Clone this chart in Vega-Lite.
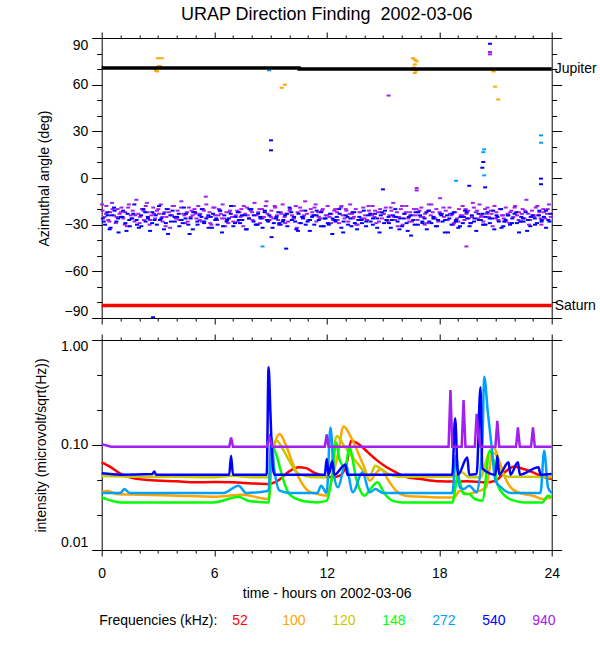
{
  "$schema": "https://vega.github.io/schema/vega-lite/v6.json",
  "padding": {"left": 33.7, "top": 5, "right": 2, "bottom": 2},
  "background": "white",
  "config": {
    "font": "Liberation Sans",
    "view": {"stroke": null},
    "axis": {
      "grid": false, "domainColor": "black", "tickColor": "black", "labelColor": "black", "titleColor": "black",
      "labelFont": "Liberation Sans", "titleFont": "Liberation Sans", "labelFontSize": 14, "titleFontSize": 14,
      "titleFontWeight": "normal", "domainWidth": 1, "tickWidth": 1, "labelPadding": 4, "titlePadding": 12
    },
    "concat": {"spacing": 8}
  },
  "datasets": {
    "df": [
      {"t":0.05,"a":-21,"f":"940"},{"t":0.15,"a":-25,"f":"940"},{"t":0.25,"a":-18,"f":"940"},{"t":0.35,"a":-27,"f":"940"},{"t":0.45,"a":-22,"f":"940"},{"t":0.55,"a":-16,"f":"940"},{"t":0.65,"a":-24,"f":"940"},{"t":0.75,"a":-29,"f":"940"},{"t":0.85,"a":-20,"f":"940"},{"t":0.95,"a":-23,"f":"940"},
      {"t":1.05,"a":-19,"f":"940"},{"t":1.15,"a":-26,"f":"940"},{"t":1.25,"a":-22,"f":"940"},{"t":1.35,"a":-31,"f":"940"},{"t":1.45,"a":-17,"f":"940"},{"t":1.55,"a":-24,"f":"940"},{"t":1.65,"a":-21,"f":"940"},{"t":1.75,"a":-28,"f":"940"},{"t":1.85,"a":-14,"f":"940"},{"t":1.95,"a":-23,"f":"940"},
      {"t":2.05,"a":-25,"f":"940"},{"t":2.15,"a":-20,"f":"940"},{"t":2.25,"a":-27,"f":"940"},{"t":2.35,"a":-18,"f":"940"},{"t":2.45,"a":-22,"f":"940"},{"t":2.55,"a":-30,"f":"940"},{"t":2.65,"a":-24,"f":"940"},{"t":2.75,"a":-19,"f":"940"},{"t":2.85,"a":-26,"f":"940"},{"t":2.95,"a":-21,"f":"940"},
      {"t":3.05,"a":-23,"f":"940"},{"t":3.15,"a":-17,"f":"940"},{"t":3.25,"a":-28,"f":"940"},{"t":3.35,"a":-22,"f":"940"},{"t":3.45,"a":-25,"f":"940"},{"t":3.55,"a":-20,"f":"940"},{"t":3.65,"a":-32,"f":"940"},{"t":3.75,"a":-24,"f":"940"},{"t":3.85,"a":-18,"f":"940"},{"t":3.95,"a":-26,"f":"940"},
      {"t":4.05,"a":-21,"f":"940"},{"t":4.15,"a":-27,"f":"940"},{"t":4.25,"a":-15,"f":"940"},{"t":4.35,"a":-23,"f":"940"},{"t":4.45,"a":-29,"f":"940"},{"t":4.55,"a":-22,"f":"940"},{"t":4.65,"a":-19,"f":"940"},{"t":4.75,"a":-25,"f":"940"},{"t":4.85,"a":-24,"f":"940"},{"t":4.95,"a":-20,"f":"940"},
      {"t":5.05,"a":-26,"f":"940"},{"t":5.15,"a":-18,"f":"940"},{"t":5.25,"a":-23,"f":"940"},{"t":5.35,"a":-28,"f":"940"},{"t":5.45,"a":-21,"f":"940"},{"t":5.55,"a":-12,"f":"940"},{"t":5.65,"a":-25,"f":"940"},{"t":5.75,"a":-22,"f":"940"},{"t":5.85,"a":-30,"f":"940"},{"t":5.95,"a":-19,"f":"940"},
      {"t":6.05,"a":-24,"f":"940"},{"t":6.15,"a":-27,"f":"940"},{"t":6.25,"a":-20,"f":"940"},{"t":6.35,"a":-23,"f":"940"},{"t":6.45,"a":-17,"f":"940"},{"t":6.55,"a":-26,"f":"940"},{"t":6.65,"a":-22,"f":"940"},{"t":6.75,"a":-29,"f":"940"},{"t":6.85,"a":-21,"f":"940"},{"t":6.95,"a":-25,"f":"940"},
      {"t":7.05,"a":-18,"f":"940"},{"t":7.15,"a":-24,"f":"940"},{"t":7.25,"a":-28,"f":"940"},{"t":7.35,"a":-22,"f":"940"},{"t":7.45,"a":-20,"f":"940"},{"t":7.55,"a":-31,"f":"940"},{"t":7.65,"a":-23,"f":"940"},{"t":7.75,"a":-19,"f":"940"},{"t":7.85,"a":-26,"f":"940"},{"t":7.95,"a":-21,"f":"940"},
      {"t":8.05,"a":-27,"f":"940"},{"t":8.15,"a":-16,"f":"940"},{"t":8.25,"a":-24,"f":"940"},{"t":8.35,"a":-22,"f":"940"},{"t":8.45,"a":-29,"f":"940"},{"t":8.55,"a":-20,"f":"940"},{"t":8.65,"a":-25,"f":"940"},{"t":8.75,"a":-18,"f":"940"},{"t":8.85,"a":-23,"f":"940"},{"t":8.95,"a":-27,"f":"940"},
      {"t":9.05,"a":-21,"f":"940"},{"t":9.15,"a":-26,"f":"940"},{"t":9.25,"a":-19,"f":"940"},{"t":9.35,"a":-24,"f":"940"},{"t":9.45,"a":-30,"f":"940"},{"t":9.55,"a":-22,"f":"940"},{"t":9.65,"a":-17,"f":"940"},{"t":9.75,"a":-25,"f":"940"},{"t":9.85,"a":-23,"f":"940"},{"t":9.95,"a":-28,"f":"940"},
      {"t":10.05,"a":-20,"f":"940"},{"t":10.15,"a":-24,"f":"940"},{"t":10.25,"a":-26,"f":"940"},{"t":10.35,"a":-18,"f":"940"},{"t":10.45,"a":-22,"f":"940"},{"t":10.55,"a":-29,"f":"940"},{"t":10.65,"a":-21,"f":"940"},{"t":10.75,"a":-25,"f":"940"},{"t":10.85,"a":-15,"f":"940"},{"t":10.95,"a":-23,"f":"940"},
      {"t":11.05,"a":-27,"f":"940"},{"t":11.15,"a":-20,"f":"940"},{"t":11.25,"a":-24,"f":"940"},{"t":11.35,"a":-19,"f":"940"},{"t":11.45,"a":-28,"f":"940"},{"t":11.55,"a":-22,"f":"940"},{"t":11.65,"a":-26,"f":"940"},{"t":11.75,"a":-21,"f":"940"},{"t":11.85,"a":-31,"f":"940"},{"t":11.95,"a":-24,"f":"940"},
      {"t":12.05,"a":-18,"f":"940"},{"t":12.15,"a":-25,"f":"940"},{"t":12.25,"a":-23,"f":"940"},{"t":12.35,"a":-27,"f":"940"},{"t":12.45,"a":-20,"f":"940"},{"t":12.55,"a":-22,"f":"940"},{"t":12.65,"a":-29,"f":"940"},{"t":12.75,"a":-19,"f":"940"},{"t":12.85,"a":-24,"f":"940"},{"t":12.95,"a":-26,"f":"940"},
      {"t":13.05,"a":-21,"f":"940"},{"t":13.15,"a":-28,"f":"940"},{"t":13.25,"a":-17,"f":"940"},{"t":13.35,"a":-23,"f":"940"},{"t":13.45,"a":-25,"f":"940"},{"t":13.55,"a":-20,"f":"940"},{"t":13.65,"a":-30,"f":"940"},{"t":13.75,"a":-22,"f":"940"},{"t":13.85,"a":-26,"f":"940"},{"t":13.95,"a":-19,"f":"940"},
      {"t":14.05,"a":-24,"f":"940"},{"t":14.15,"a":-27,"f":"940"},{"t":14.25,"a":-21,"f":"940"},{"t":14.35,"a":-23,"f":"940"},{"t":14.45,"a":-18,"f":"940"},{"t":14.55,"a":-25,"f":"940"},{"t":14.65,"a":-29,"f":"940"},{"t":14.75,"a":-22,"f":"940"},{"t":14.85,"a":-20,"f":"940"},{"t":14.95,"a":-26,"f":"940"},
      {"t":15.05,"a":-23,"f":"940"},{"t":15.15,"a":-19,"f":"940"},{"t":15.25,"a":-28,"f":"940"},{"t":15.35,"a":-24,"f":"940"},{"t":15.45,"a":-21,"f":"940"},{"t":15.55,"a":-16,"f":"940"},{"t":15.65,"a":-27,"f":"940"},{"t":15.75,"a":-22,"f":"940"},{"t":15.85,"a":-25,"f":"940"},{"t":15.95,"a":-20,"f":"940"},
      {"t":16.05,"a":-30,"f":"940"},{"t":16.15,"a":-23,"f":"940"},{"t":16.25,"a":-18,"f":"940"},{"t":16.35,"a":-26,"f":"940"},{"t":16.45,"a":-22,"f":"940"},{"t":16.55,"a":-28,"f":"940"},{"t":16.65,"a":-20,"f":"940"},{"t":16.75,"a":-24,"f":"940"},{"t":16.85,"a":-27,"f":"940"},{"t":16.95,"a":-21,"f":"940"},
      {"t":17.05,"a":-19,"f":"940"},{"t":17.15,"a":-25,"f":"940"},{"t":17.25,"a":-23,"f":"940"},{"t":17.35,"a":-29,"f":"940"},{"t":17.45,"a":-17,"f":"940"},{"t":17.55,"a":-24,"f":"940"},{"t":17.65,"a":-22,"f":"940"},{"t":17.75,"a":-26,"f":"940"},{"t":17.85,"a":-20,"f":"940"},{"t":17.95,"a":-28,"f":"940"},
      {"t":18.05,"a":-13,"f":"940"},{"t":18.15,"a":-23,"f":"940"},{"t":18.25,"a":-25,"f":"940"},{"t":18.35,"a":-21,"f":"940"},{"t":18.45,"a":-27,"f":"940"},{"t":18.55,"a":-19,"f":"940"},{"t":18.65,"a":-24,"f":"940"},{"t":18.75,"a":-30,"f":"940"},{"t":18.85,"a":-22,"f":"940"},{"t":18.95,"a":-26,"f":"940"},
      {"t":19.05,"a":-20,"f":"940"},{"t":19.15,"a":-24,"f":"940"},{"t":19.25,"a":-18,"f":"940"},{"t":19.35,"a":-27,"f":"940"},{"t":19.45,"a":-23,"f":"940"},{"t":19.55,"a":-21,"f":"940"},{"t":19.65,"a":-29,"f":"940"},{"t":19.75,"a":-25,"f":"940"},{"t":19.85,"a":-19,"f":"940"},{"t":19.95,"a":-22,"f":"940"},
      {"t":20.05,"a":-26,"f":"940"},{"t":20.15,"a":-17,"f":"940"},{"t":20.25,"a":-24,"f":"940"},{"t":20.35,"a":-28,"f":"940"},{"t":20.45,"a":-20,"f":"940"},{"t":20.55,"a":-23,"f":"940"},{"t":20.65,"a":-25,"f":"940"},{"t":20.75,"a":-21,"f":"940"},{"t":20.85,"a":-31,"f":"940"},{"t":20.95,"a":-18,"f":"940"},
      {"t":21.05,"a":-22,"f":"940"},{"t":21.15,"a":-27,"f":"940"},{"t":21.25,"a":-20,"f":"940"},{"t":21.35,"a":-24,"f":"940"},{"t":21.45,"a":-26,"f":"940"},{"t":21.55,"a":-19,"f":"940"},{"t":21.65,"a":-23,"f":"940"},{"t":21.75,"a":-29,"f":"940"},{"t":21.85,"a":-21,"f":"940"},{"t":21.95,"a":-25,"f":"940"},
      {"t":22.05,"a":-18,"f":"940"},{"t":22.15,"a":-24,"f":"940"},{"t":22.25,"a":-22,"f":"940"},{"t":22.35,"a":-28,"f":"940"},{"t":22.45,"a":-20,"f":"940"},{"t":22.55,"a":-26,"f":"940"},{"t":22.65,"a":-14,"f":"940"},{"t":22.75,"a":-23,"f":"940"},{"t":22.85,"a":-27,"f":"940"},{"t":22.95,"a":-21,"f":"940"},
      {"t":23.05,"a":-25,"f":"940"},{"t":23.15,"a":-19,"f":"940"},{"t":23.25,"a":-24,"f":"940"},{"t":23.35,"a":-22,"f":"940"},{"t":23.45,"a":-30,"f":"940"},{"t":23.55,"a":-20,"f":"940"},{"t":23.65,"a":-26,"f":"940"},{"t":23.75,"a":-23,"f":"940"},{"t":23.85,"a":-17,"f":"940"},{"t":23.95,"a":-25,"f":"940"},
      {"t":0.02,"a":-17,"f":"940"},{"t":0.23,"a":-23,"f":"940"},{"t":0.41,"a":-28,"f":"940"},{"t":0.58,"a":-20,"f":"940"},{"t":0.79,"a":-25,"f":"940"},
      {"t":1.02,"a":-22,"f":"940"},{"t":1.23,"a":-30,"f":"940"},{"t":1.41,"a":-19,"f":"940"},{"t":1.58,"a":-26,"f":"940"},{"t":1.79,"a":-24,"f":"940"},
      {"t":2.02,"a":-29,"f":"940"},{"t":2.23,"a":-21,"f":"940"},{"t":2.41,"a":-16,"f":"940"},{"t":2.58,"a":-27,"f":"940"},{"t":2.79,"a":-23,"f":"940"},
      {"t":3.02,"a":-20,"f":"940"},{"t":3.23,"a":-25,"f":"940"},{"t":3.41,"a":-31,"f":"940"},{"t":3.58,"a":-22,"f":"940"},{"t":3.79,"a":-18,"f":"940"},
      {"t":4.02,"a":-26,"f":"940"},{"t":4.23,"a":-19,"f":"940"},{"t":4.41,"a":-24,"f":"940"},{"t":4.58,"a":-28,"f":"940"},{"t":4.79,"a":-21,"f":"940"},
      {"t":5.02,"a":-23,"f":"940"},{"t":5.23,"a":-27,"f":"940"},{"t":5.41,"a":-20,"f":"940"},{"t":5.58,"a":-17,"f":"940"},{"t":5.79,"a":-29,"f":"940"},
      {"t":6.02,"a":-19,"f":"940"},{"t":6.23,"a":-24,"f":"940"},{"t":6.41,"a":-26,"f":"940"},{"t":6.58,"a":-31,"f":"940"},{"t":6.79,"a":-22,"f":"940"},
      {"t":7.02,"a":-28,"f":"940"},{"t":7.23,"a":-21,"f":"940"},{"t":7.41,"a":-25,"f":"940"},{"t":7.58,"a":-18,"f":"940"},{"t":7.79,"a":-24,"f":"940"},
      {"t":8.02,"a":-22,"f":"940"},{"t":8.23,"a":-30,"f":"940"},{"t":8.41,"a":-20,"f":"940"},{"t":8.58,"a":-26,"f":"940"},{"t":8.79,"a":-15,"f":"940"},
      {"t":9.02,"a":-25,"f":"940"},{"t":9.23,"a":-18,"f":"940"},{"t":9.41,"a":-27,"f":"940"},{"t":9.58,"a":-23,"f":"940"},{"t":9.79,"a":-29,"f":"940"},
      {"t":10.02,"a":-21,"f":"940"},{"t":10.23,"a":-26,"f":"940"},{"t":10.41,"a":-32,"f":"940"},{"t":10.58,"a":-19,"f":"940"},{"t":10.79,"a":-24,"f":"940"},
      {"t":11.02,"a":-27,"f":"940"},{"t":11.23,"a":-22,"f":"940"},{"t":11.41,"a":-17,"f":"940"},{"t":11.58,"a":-25,"f":"940"},{"t":11.79,"a":-20,"f":"940"},
      {"t":12.02,"a":-24,"f":"940"},{"t":12.23,"a":-29,"f":"940"},{"t":12.41,"a":-21,"f":"940"},{"t":12.58,"a":-27,"f":"940"},{"t":12.79,"a":-18,"f":"940"},
      {"t":13.02,"a":-20,"f":"940"},{"t":13.23,"a":-23,"f":"940"},{"t":13.41,"a":-26,"f":"940"},{"t":13.58,"a":-30,"f":"940"},{"t":13.79,"a":-22,"f":"940"},
      {"t":14.02,"a":-26,"f":"940"},{"t":14.23,"a":-18,"f":"940"},{"t":14.41,"a":-24,"f":"940"},{"t":14.58,"a":-21,"f":"940"},{"t":14.79,"a":-28,"f":"940"},
      {"t":15.02,"a":-23,"f":"940"},{"t":15.23,"a":-27,"f":"940"},{"t":15.41,"a":-19,"f":"940"},{"t":15.58,"a":-25,"f":"940"},{"t":15.79,"a":-31,"f":"940"},
      {"t":16.02,"a":-18,"f":"940"},{"t":16.23,"a":-22,"f":"940"},{"t":16.41,"a":-28,"f":"940"},{"t":16.58,"a":-24,"f":"940"},{"t":16.79,"a":-20,"f":"940"},
      {"t":17.02,"a":-25,"f":"940"},{"t":17.23,"a":-30,"f":"940"},{"t":17.41,"a":-21,"f":"940"},{"t":17.58,"a":-17,"f":"940"},{"t":17.79,"a":-26,"f":"940"},
      {"t":18.02,"a":-22,"f":"940"},{"t":18.23,"a":-19,"f":"940"},{"t":18.41,"a":-27,"f":"940"},{"t":18.58,"a":-23,"f":"940"},{"t":18.79,"a":-29,"f":"940"},
      {"t":19.02,"a":-28,"f":"940"},{"t":19.23,"a":-24,"f":"940"},{"t":19.41,"a":-20,"f":"940"},{"t":19.58,"a":-26,"f":"940"},{"t":19.79,"a":-16,"f":"940"},
      {"t":20.02,"a":-21,"f":"940"},{"t":20.23,"a":-25,"f":"940"},{"t":20.41,"a":-30,"f":"940"},{"t":20.58,"a":-19,"f":"940"},{"t":20.79,"a":-23,"f":"940"},
      {"t":21.02,"a":-26,"f":"940"},{"t":21.23,"a":-20,"f":"940"},{"t":21.41,"a":-24,"f":"940"},{"t":21.58,"a":-28,"f":"940"},{"t":21.79,"a":-22,"f":"940"},
      {"t":22.02,"a":-19,"f":"940"},{"t":22.23,"a":-27,"f":"940"},{"t":22.41,"a":-23,"f":"940"},{"t":22.58,"a":-21,"f":"940"},{"t":22.79,"a":-30,"f":"940"},
      {"t":23.02,"a":-24,"f":"940"},{"t":23.23,"a":-18,"f":"940"},{"t":23.41,"a":-26,"f":"940"},{"t":23.58,"a":-22,"f":"940"},{"t":23.79,"a":-20,"f":"940"},
      {"t":15.3,"a":53,"f":"940"},{"t":20.71,"a":81,"f":"940"},{"t":20.71,"a":79.5,"f":"940"},{"t":19.45,"a":-44,"f":"940"},{"t":16.8,"a":-6.5,"f":"940"},{"t":16.8,"a":-8,"f":"940"},
      {"t":0.06,"a":-26,"f":"540"},{"t":0.18,"a":-30,"f":"540"},{"t":0.30,"a":-22,"f":"540"},{"t":0.42,"a":-33,"f":"540"},{"t":0.54,"a":-24,"f":"540"},{"t":0.66,"a":-19,"f":"540"},{"t":0.78,"a":-28,"f":"540"},{"t":0.90,"a":-35,"f":"540"},{"t":1.02,"a":-25,"f":"540"},{"t":1.14,"a":-21,"f":"540"},
      {"t":1.26,"a":-29,"f":"540"},{"t":1.38,"a":-23,"f":"540"},{"t":1.50,"a":-31,"f":"540"},{"t":1.62,"a":-26,"f":"540"},{"t":1.74,"a":-17,"f":"540"},{"t":1.86,"a":-27,"f":"540"},{"t":1.98,"a":-32,"f":"540"},{"t":2.10,"a":-24,"f":"540"},{"t":2.22,"a":-20,"f":"540"},{"t":2.34,"a":-28,"f":"540"},
      {"t":2.46,"a":-25,"f":"540"},{"t":2.58,"a":-34,"f":"540"},{"t":2.70,"a":-22,"f":"540"},{"t":2.82,"a":-27,"f":"540"},{"t":2.94,"a":-30,"f":"540"},{"t":3.06,"a":-18,"f":"540"},{"t":3.18,"a":-26,"f":"540"},{"t":3.30,"a":-23,"f":"540"},{"t":3.42,"a":-29,"f":"540"},{"t":3.54,"a":-36,"f":"540"},
      {"t":3.66,"a":-24,"f":"540"},{"t":3.78,"a":-21,"f":"540"},{"t":3.90,"a":-28,"f":"540"},{"t":4.02,"a":-25,"f":"540"},{"t":4.14,"a":-31,"f":"540"},{"t":4.26,"a":-27,"f":"540"},{"t":4.38,"a":-19,"f":"540"},{"t":4.50,"a":-23,"f":"540"},{"t":4.62,"a":-30,"f":"540"},{"t":4.74,"a":-26,"f":"540"},
      {"t":4.86,"a":-33,"f":"540"},{"t":4.98,"a":-22,"f":"540"},{"t":5.10,"a":-28,"f":"540"},{"t":5.22,"a":-24,"f":"540"},{"t":5.34,"a":-20,"f":"540"},{"t":5.46,"a":-29,"f":"540"},{"t":5.58,"a":-26,"f":"540"},{"t":5.70,"a":-32,"f":"540"},{"t":5.82,"a":-25,"f":"540"},{"t":5.94,"a":-23,"f":"540"},
      {"t":6.06,"a":-27,"f":"540"},{"t":6.18,"a":-30,"f":"540"},{"t":6.30,"a":-21,"f":"540"},{"t":6.42,"a":-35,"f":"540"},{"t":6.54,"a":-24,"f":"540"},{"t":6.66,"a":-28,"f":"540"},{"t":6.78,"a":-26,"f":"540"},{"t":6.90,"a":-18,"f":"540"},{"t":7.02,"a":-31,"f":"540"},{"t":7.14,"a":-25,"f":"540"},
      {"t":7.26,"a":-22,"f":"540"},{"t":7.38,"a":-29,"f":"540"},{"t":7.50,"a":-27,"f":"540"},{"t":7.62,"a":-24,"f":"540"},{"t":7.74,"a":-33,"f":"540"},{"t":7.86,"a":-26,"f":"540"},{"t":7.98,"a":-20,"f":"540"},{"t":8.10,"a":-28,"f":"540"},{"t":8.22,"a":-30,"f":"540"},{"t":8.34,"a":-23,"f":"540"},
      {"t":8.46,"a":-25,"f":"540"},{"t":8.58,"a":-32,"f":"540"},{"t":8.70,"a":-21,"f":"540"},{"t":8.82,"a":-27,"f":"540"},{"t":8.94,"a":-24,"f":"540"},{"t":9.06,"a":-38,"f":"540"},{"t":9.18,"a":-29,"f":"540"},{"t":9.30,"a":-26,"f":"540"},{"t":9.42,"a":-22,"f":"540"},{"t":9.54,"a":-30,"f":"540"},
      {"t":9.66,"a":-28,"f":"540"},{"t":9.78,"a":-24,"f":"540"},{"t":9.90,"a":-31,"f":"540"},{"t":10.02,"a":-19,"f":"540"},{"t":10.14,"a":-27,"f":"540"},{"t":10.26,"a":-25,"f":"540"},{"t":10.38,"a":-33,"f":"540"},{"t":10.50,"a":-23,"f":"540"},{"t":10.62,"a":-29,"f":"540"},{"t":10.74,"a":-26,"f":"540"},
      {"t":10.86,"a":-21,"f":"540"},{"t":10.98,"a":-28,"f":"540"},{"t":11.10,"a":-34,"f":"540"},{"t":11.22,"a":-25,"f":"540"},{"t":11.34,"a":-30,"f":"540"},{"t":11.46,"a":-24,"f":"540"},{"t":11.58,"a":-27,"f":"540"},{"t":11.70,"a":-22,"f":"540"},{"t":11.82,"a":-31,"f":"540"},{"t":11.94,"a":-26,"f":"540"},
      {"t":12.06,"a":-29,"f":"540"},{"t":12.18,"a":-23,"f":"540"},{"t":12.30,"a":-36,"f":"540"},{"t":12.42,"a":-27,"f":"540"},{"t":12.54,"a":-25,"f":"540"},{"t":12.66,"a":-20,"f":"540"},{"t":12.78,"a":-32,"f":"540"},{"t":12.90,"a":-28,"f":"540"},{"t":13.02,"a":-24,"f":"540"},{"t":13.14,"a":-30,"f":"540"},
      {"t":13.26,"a":-26,"f":"540"},{"t":13.38,"a":-22,"f":"540"},{"t":13.50,"a":-29,"f":"540"},{"t":13.62,"a":-33,"f":"540"},{"t":13.74,"a":-25,"f":"540"},{"t":13.86,"a":-27,"f":"540"},{"t":13.98,"a":-21,"f":"540"},{"t":14.10,"a":-31,"f":"540"},{"t":14.22,"a":-24,"f":"540"},{"t":14.34,"a":-28,"f":"540"},
      {"t":14.46,"a":-30,"f":"540"},{"t":14.58,"a":-23,"f":"540"},{"t":14.70,"a":-26,"f":"540"},{"t":14.82,"a":-35,"f":"540"},{"t":14.94,"a":-22,"f":"540"},{"t":15.06,"a":-29,"f":"540"},{"t":15.18,"a":-27,"f":"540"},{"t":15.30,"a":-25,"f":"540"},{"t":15.42,"a":-32,"f":"540"},{"t":15.54,"a":-24,"f":"540"},
      {"t":15.66,"a":-20,"f":"540"},{"t":15.78,"a":-28,"f":"540"},{"t":15.90,"a":-26,"f":"540"},{"t":16.02,"a":-31,"f":"540"},{"t":16.14,"a":-23,"f":"540"},{"t":16.26,"a":-29,"f":"540"},{"t":16.38,"a":-25,"f":"540"},{"t":16.50,"a":-37,"f":"540"},{"t":16.62,"a":-27,"f":"540"},{"t":16.74,"a":-22,"f":"540"},
      {"t":16.86,"a":-30,"f":"540"},{"t":16.98,"a":-24,"f":"540"},{"t":17.10,"a":-28,"f":"540"},{"t":17.22,"a":-26,"f":"540"},{"t":17.34,"a":-33,"f":"540"},{"t":17.46,"a":-21,"f":"540"},{"t":17.58,"a":-29,"f":"540"},{"t":17.70,"a":-25,"f":"540"},{"t":17.82,"a":-31,"f":"540"},{"t":17.94,"a":-27,"f":"540"},
      {"t":18.06,"a":-23,"f":"540"},{"t":18.18,"a":-28,"f":"540"},{"t":18.30,"a":-35,"f":"540"},{"t":18.42,"a":-24,"f":"540"},{"t":18.54,"a":-26,"f":"540"},{"t":18.66,"a":-30,"f":"540"},{"t":18.78,"a":-22,"f":"540"},{"t":18.90,"a":-27,"f":"540"},{"t":19.02,"a":-32,"f":"540"},{"t":19.14,"a":-25,"f":"540"},
      {"t":19.26,"a":-29,"f":"540"},{"t":19.38,"a":-21,"f":"540"},{"t":19.50,"a":-26,"f":"540"},{"t":19.62,"a":-31,"f":"540"},{"t":19.74,"a":-24,"f":"540"},{"t":19.86,"a":-28,"f":"540"},{"t":19.98,"a":-34,"f":"540"},{"t":20.10,"a":-23,"f":"540"},{"t":20.22,"a":-27,"f":"540"},{"t":20.34,"a":-30,"f":"540"},
      {"t":20.46,"a":-25,"f":"540"},{"t":20.58,"a":-22,"f":"540"},{"t":20.70,"a":-29,"f":"540"},{"t":20.82,"a":-26,"f":"540"},{"t":20.94,"a":-33,"f":"540"},{"t":21.06,"a":-24,"f":"540"},{"t":21.18,"a":-28,"f":"540"},{"t":21.30,"a":-20,"f":"540"},{"t":21.42,"a":-31,"f":"540"},{"t":21.54,"a":-27,"f":"540"},
      {"t":21.66,"a":-24,"f":"540"},{"t":21.78,"a":-30,"f":"540"},{"t":21.90,"a":-26,"f":"540"},{"t":22.02,"a":-23,"f":"540"},{"t":22.14,"a":-29,"f":"540"},{"t":22.26,"a":-35,"f":"540"},{"t":22.38,"a":-25,"f":"540"},{"t":22.50,"a":-28,"f":"540"},{"t":22.62,"a":-22,"f":"540"},{"t":22.74,"a":-27,"f":"540"},
      {"t":22.86,"a":-31,"f":"540"},{"t":22.98,"a":-24,"f":"540"},{"t":23.10,"a":-26,"f":"540"},{"t":23.22,"a":-29,"f":"540"},{"t":23.34,"a":-21,"f":"540"},{"t":23.46,"a":-28,"f":"540"},{"t":23.58,"a":-25,"f":"540"},{"t":23.70,"a":-32,"f":"540"},{"t":23.82,"a":-27,"f":"540"},{"t":23.94,"a":-23,"f":"540"},
      {"t":0.11,"a":-28,"f":"540"},{"t":0.32,"a":-24,"f":"540"},{"t":0.47,"a":-32,"f":"540"},{"t":0.69,"a":-21,"f":"540"},{"t":0.88,"a":-26,"f":"540"},
      {"t":1.11,"a":-25,"f":"540"},{"t":1.32,"a":-34,"f":"540"},{"t":1.47,"a":-27,"f":"540"},{"t":1.69,"a":-23,"f":"540"},{"t":1.88,"a":-30,"f":"540"},
      {"t":2.11,"a":-31,"f":"540"},{"t":2.32,"a":-22,"f":"540"},{"t":2.47,"a":-26,"f":"540"},{"t":2.69,"a":-29,"f":"540"},{"t":2.88,"a":-24,"f":"540"},
      {"t":3.11,"a":-27,"f":"540"},{"t":3.32,"a":-33,"f":"540"},{"t":3.47,"a":-20,"f":"540"},{"t":3.69,"a":-28,"f":"540"},{"t":3.88,"a":-25,"f":"540"},
      {"t":4.11,"a":-23,"f":"540"},{"t":4.32,"a":-29,"f":"540"},{"t":4.47,"a":-26,"f":"540"},{"t":4.69,"a":-36,"f":"540"},{"t":4.88,"a":-22,"f":"540"},
      {"t":5.11,"a":-30,"f":"540"},{"t":5.32,"a":-25,"f":"540"},{"t":5.47,"a":-28,"f":"540"},{"t":5.69,"a":-24,"f":"540"},{"t":5.88,"a":-32,"f":"540"},
      {"t":6.11,"a":-26,"f":"540"},{"t":6.32,"a":-21,"f":"540"},{"t":6.47,"a":-31,"f":"540"},{"t":6.69,"a":-27,"f":"540"},{"t":6.88,"a":-23,"f":"540"},
      {"t":7.11,"a":-29,"f":"540"},{"t":7.32,"a":-27,"f":"540"},{"t":7.47,"a":-24,"f":"540"},{"t":7.69,"a":-33,"f":"540"},{"t":7.88,"a":-20,"f":"540"},
      {"t":8.11,"a":-24,"f":"540"},{"t":8.32,"a":-30,"f":"540"},{"t":8.47,"a":-26,"f":"540"},{"t":8.69,"a":-22,"f":"540"},{"t":8.88,"a":-28,"f":"540"},
      {"t":9.11,"a":-32,"f":"540"},{"t":9.32,"a":-25,"f":"540"},{"t":9.47,"a":-29,"f":"540"},{"t":9.69,"a":-27,"f":"540"},{"t":9.88,"a":-23,"f":"540"},
      {"t":10.11,"a":-22,"f":"540"},{"t":10.32,"a":-28,"f":"540"},{"t":10.47,"a":-34,"f":"540"},{"t":10.69,"a":-25,"f":"540"},{"t":10.88,"a":-30,"f":"540"},
      {"t":11.11,"a":-27,"f":"540"},{"t":11.32,"a":-24,"f":"540"},{"t":11.47,"a":-21,"f":"540"},{"t":11.69,"a":-31,"f":"540"},{"t":11.88,"a":-26,"f":"540"},
      {"t":12.11,"a":-30,"f":"540"},{"t":12.32,"a":-26,"f":"540"},{"t":12.47,"a":-28,"f":"540"},{"t":12.69,"a":-23,"f":"540"},{"t":12.88,"a":-35,"f":"540"},
      {"t":13.11,"a":-25,"f":"540"},{"t":13.32,"a":-31,"f":"540"},{"t":13.47,"a":-22,"f":"540"},{"t":13.69,"a":-27,"f":"540"},{"t":13.88,"a":-29,"f":"540"},
      {"t":14.11,"a":-28,"f":"540"},{"t":14.32,"a":-23,"f":"540"},{"t":14.47,"a":-26,"f":"540"},{"t":14.69,"a":-32,"f":"540"},{"t":14.88,"a":-24,"f":"540"},
      {"t":15.11,"a":-21,"f":"540"},{"t":15.32,"a":-29,"f":"540"},{"t":15.47,"a":-27,"f":"540"},{"t":15.69,"a":-25,"f":"540"},{"t":15.88,"a":-33,"f":"540"},
      {"t":16.11,"a":-26,"f":"540"},{"t":16.32,"a":-34,"f":"540"},{"t":16.47,"a":-24,"f":"540"},{"t":16.69,"a":-30,"f":"540"},{"t":16.88,"a":-22,"f":"540"},
      {"t":17.11,"a":-29,"f":"540"},{"t":17.32,"a":-22,"f":"540"},{"t":17.47,"a":-28,"f":"540"},{"t":17.69,"a":-26,"f":"540"},{"t":17.88,"a":-31,"f":"540"},
      {"t":18.11,"a":-24,"f":"540"},{"t":18.32,"a":-27,"f":"540"},{"t":18.47,"a":-35,"f":"540"},{"t":18.69,"a":-23,"f":"540"},{"t":18.88,"a":-28,"f":"540"},
      {"t":19.11,"a":-31,"f":"540"},{"t":19.32,"a":-25,"f":"540"},{"t":19.47,"a":-22,"f":"540"},{"t":19.69,"a":-29,"f":"540"},{"t":19.88,"a":-26,"f":"540"},
      {"t":20.11,"a":-27,"f":"540"},{"t":20.32,"a":-23,"f":"540"},{"t":20.47,"a":-30,"f":"540"},{"t":20.69,"a":-26,"f":"540"},{"t":20.88,"a":-21,"f":"540"},
      {"t":21.11,"a":-25,"f":"540"},{"t":21.32,"a":-32,"f":"540"},{"t":21.47,"a":-28,"f":"540"},{"t":21.69,"a":-24,"f":"540"},{"t":21.88,"a":-29,"f":"540"},
      {"t":22.11,"a":-22,"f":"540"},{"t":22.32,"a":-28,"f":"540"},{"t":22.47,"a":-26,"f":"540"},{"t":22.69,"a":-34,"f":"540"},{"t":22.88,"a":-25,"f":"540"},
      {"t":23.11,"a":-30,"f":"540"},{"t":23.32,"a":-24,"f":"540"},{"t":23.47,"a":-27,"f":"540"},{"t":23.69,"a":-21,"f":"540"},{"t":23.88,"a":-28,"f":"540"},
      {"t":2.74,"a":-89.5,"f":"540"},{"t":9.03,"a":24.2,"f":"540"},{"t":9.03,"a":17.8,"f":"540"},{"t":9.84,"a":-45.4,"f":"540"},{"t":20.71,"a":86.3,"f":"540"},{"t":20.35,"a":10.3,"f":"540"},{"t":20.3,"a":6.6,"f":"540"},{"t":20.45,"a":-6,"f":"540"},{"t":23.43,"a":-0.4,"f":"540"},{"t":23.43,"a":-4,"f":"540"},{"t":19.6,"a":-5,"f":"540"},{"t":15.0,"a":-7.3,"f":"540"},
      {"t":8.93,"a":69.2,"f":"272"},{"t":8.58,"a":-44,"f":"272"},{"t":23.43,"a":27.4,"f":"272"},{"t":23.43,"a":22.7,"f":"272"},{"t":20.4,"a":18.4,"f":"272"},{"t":20.35,"a":16.6,"f":"272"},{"t":20.4,"a":1.7,"f":"272"},{"t":18.9,"a":-1.8,"f":"272"},
      {"t":2.85,"a":70,"f":"100"},{"t":2.9,"a":69,"f":"100"},{"t":3.0,"a":71,"f":"100"},{"t":3.05,"a":72,"f":"100"},{"t":3.1,"a":72,"f":"100"},{"t":3.15,"a":71,"f":"100"},{"t":3.0,"a":77,"f":"100"},{"t":3.2,"a":77,"f":"100"},{"t":2.95,"a":68.5,"f":"100"},{"t":9.6,"a":58,"f":"100"},{"t":9.77,"a":60,"f":"100"},
      {"t":16.6,"a":77,"f":"100"},{"t":16.7,"a":76,"f":"100"},{"t":16.8,"a":75,"f":"100"},{"t":16.7,"a":73,"f":"100"},{"t":16.6,"a":70,"f":"100"},{"t":16.75,"a":69,"f":"100"},{"t":16.7,"a":67.5,"f":"100"},{"t":16.65,"a":71,"f":"100"},{"t":20.9,"a":68.5,"f":"100"},{"t":20.98,"a":58.7,"f":"100"},{"t":21.15,"a":50.5,"f":"100"}
    ],
    "planet": [
      {"t":0,"a":70.7,"body":"Jupiter"},{"t":10.53,"a":70.1,"body":"Jupiter"},{"t":24,"a":70.1,"body":"Jupiter"},
      {"t":0,"a":-82,"body":"Saturn"},{"t":24,"a":-82,"body":"Saturn"}
    ],
    "flux": [
      {"t":0,"v":0.0684,"f":"52"},{"t":0.5,"v":0.0613,"f":"52"},{"t":1,"v":0.053,"f":"52"},{"t":1.5,"v":0.0492,"f":"52"},{"t":2.5,"v":0.0464,"f":"52"},{"t":4,"v":0.0451,"f":"52"},{"t":5,"v":0.0441,"f":"52"},{"t":6,"v":0.0444,"f":"52"},{"t":7,"v":0.0441,"f":"52"},{"t":8,"v":0.0431,"f":"52"},{"t":8.9,"v":0.0425,"f":"52"},{"t":9.4,"v":0.0457,"f":"52"},{"t":10,"v":0.056,"f":"52"},{"t":10.5,"v":0.0613,"f":"52"},{"t":10.9,"v":0.0602,"f":"52"},{"t":11.3,"v":0.0549,"f":"52"},{"t":11.8,"v":0.051,"f":"52"},{"t":12.3,"v":0.0492,"f":"52"},{"t":12.7,"v":0.051,"f":"52"},{"t":13.1,"v":0.071,"f":"52"},{"t":13.3,"v":0.11,"f":"52"},{"t":13.8,"v":0.099,"f":"52"},{"t":14.2,"v":0.0851,"f":"52"},{"t":14.7,"v":0.071,"f":"52"},{"t":15.2,"v":0.0613,"f":"52"},{"t":15.7,"v":0.0549,"f":"52"},{"t":16.2,"v":0.0499,"f":"52"},{"t":17,"v":0.0475,"f":"52"},{"t":18,"v":0.0451,"f":"52"},{"t":18.8,"v":0.0448,"f":"52"},{"t":19.5,"v":0.0451,"f":"52"},{"t":20.5,"v":0.0441,"f":"52"},{"t":21,"v":0.0457,"f":"52"},{"t":21.5,"v":0.0549,"f":"52"},{"t":22,"v":0.0623,"f":"52"},{"t":22.5,"v":0.0591,"f":"52"},{"t":23,"v":0.0549,"f":"52"},{"t":23.5,"v":0.0499,"f":"52"},{"t":24,"v":0.0475,"f":"52"},
      {"t":0,"v":0.0354,"f":"100"},{"t":0.3,"v":0.0367,"f":"100"},{"t":0.8,"v":0.0341,"f":"100"},{"t":2,"v":0.0336,"f":"100"},{"t":4,"v":0.0329,"f":"100"},{"t":6,"v":0.0322,"f":"100"},{"t":7.5,"v":0.0336,"f":"100"},{"t":8.9,"v":0.0306,"f":"100"},{"t":9.1,"v":0.0821,"f":"100"},{"t":9.5,"v":0.127,"f":"100"},{"t":9.8,"v":0.102,"f":"100"},{"t":10.2,"v":0.066,"f":"100"},{"t":10.6,"v":0.0457,"f":"100"},{"t":11,"v":0.0367,"f":"100"},{"t":11.5,"v":0.0341,"f":"100"},{"t":12,"v":0.0329,"f":"100"},{"t":12.3,"v":0.0492,"f":"100"},{"t":12.6,"v":0.0821,"f":"100"},{"t":12.9,"v":0.15,"f":"100"},{"t":13.3,"v":0.118,"f":"100"},{"t":13.7,"v":0.0821,"f":"100"},{"t":14,"v":0.0613,"f":"100"},{"t":14.3,"v":0.0457,"f":"100"},{"t":14.6,"v":0.053,"f":"100"},{"t":14.9,"v":0.0591,"f":"100"},{"t":15.3,"v":0.0457,"f":"100"},{"t":15.7,"v":0.0367,"f":"100"},{"t":16.2,"v":0.0329,"f":"100"},{"t":17,"v":0.0322,"f":"100"},{"t":18,"v":0.0317,"f":"100"},{"t":18.8,"v":0.0317,"f":"100"},{"t":19.1,"v":0.0367,"f":"100"},{"t":19.5,"v":0.0341,"f":"100"},{"t":19.9,"v":0.0354,"f":"100"},{"t":20.5,"v":0.0395,"f":"100"},{"t":20.9,"v":0.0951,"f":"100"},{"t":21.2,"v":0.071,"f":"100"},{"t":21.5,"v":0.0492,"f":"100"},{"t":21.9,"v":0.0381,"f":"100"},{"t":22.5,"v":0.0341,"f":"100"},{"t":23,"v":0.0329,"f":"100"},{"t":23.5,"v":0.0306,"f":"100"},{"t":24,"v":0.0317,"f":"100"},
      {"t":0,"v":0.0507,"f":"120"},{"t":2,"v":0.0499,"f":"120"},{"t":4,"v":0.0499,"f":"120"},{"t":6,"v":0.0492,"f":"120"},{"t":7,"v":0.051,"f":"120"},{"t":8,"v":0.0492,"f":"120"},{"t":8.9,"v":0.0492,"f":"120"},{"t":9.1,"v":0.0821,"f":"120"},{"t":9.35,"v":0.11,"f":"120"},{"t":9.6,"v":0.0951,"f":"120"},{"t":10,"v":0.071,"f":"120"},{"t":10.4,"v":0.0549,"f":"120"},{"t":10.8,"v":0.051,"f":"120"},{"t":11.5,"v":0.0492,"f":"120"},{"t":12,"v":0.0492,"f":"120"},{"t":12.2,"v":0.06,"f":"120"},{"t":12.55,"v":0.122,"f":"120"},{"t":12.9,"v":0.1,"f":"120"},{"t":13.3,"v":0.08,"f":"120"},{"t":13.7,"v":0.065,"f":"120"},{"t":14.1,"v":0.053,"f":"120"},{"t":14.3,"v":0.051,"f":"120"},{"t":14.6,"v":0.0636,"f":"120"},{"t":14.9,"v":0.0591,"f":"120"},{"t":15.3,"v":0.053,"f":"120"},{"t":15.8,"v":0.0499,"f":"120"},{"t":17,"v":0.0499,"f":"120"},{"t":18.8,"v":0.0499,"f":"120"},{"t":19.2,"v":0.0549,"f":"120"},{"t":19.6,"v":0.0492,"f":"120"},{"t":20.2,"v":0.0492,"f":"120"},{"t":20.7,"v":0.0851,"f":"120"},{"t":21,"v":0.0821,"f":"120"},{"t":21.3,"v":0.0549,"f":"120"},{"t":21.7,"v":0.0499,"f":"120"},{"t":23,"v":0.0499,"f":"120"},{"t":24,"v":0.0492,"f":"120"},
      {"t":0,"v":0.0317,"f":"148"},{"t":0.5,"v":0.0295,"f":"148"},{"t":1,"v":0.0284,"f":"148"},{"t":3,"v":0.0284,"f":"148"},{"t":6,"v":0.0284,"f":"148"},{"t":7.3,"v":0.0322,"f":"148"},{"t":7.8,"v":0.0295,"f":"148"},{"t":8.9,"v":0.0284,"f":"148"},{"t":9.1,"v":0.0951,"f":"148"},{"t":9.3,"v":0.0821,"f":"148"},{"t":9.5,"v":0.0613,"f":"148"},{"t":9.7,"v":0.0457,"f":"148"},{"t":10,"v":0.0341,"f":"148"},{"t":10.4,"v":0.0306,"f":"148"},{"t":10.8,"v":0.0291,"f":"148"},{"t":11.5,"v":0.0284,"f":"148"},{"t":12,"v":0.0295,"f":"148"},{"t":12.3,"v":0.053,"f":"148"},{"t":12.5,"v":0.106,"f":"148"},{"t":12.7,"v":0.071,"f":"148"},{"t":13,"v":0.0613,"f":"148"},{"t":13.2,"v":0.0951,"f":"148"},{"t":13.6,"v":0.0457,"f":"148"},{"t":14,"v":0.0329,"f":"148"},{"t":14.4,"v":0.0395,"f":"148"},{"t":14.7,"v":0.0441,"f":"148"},{"t":15.1,"v":0.0341,"f":"148"},{"t":15.5,"v":0.0295,"f":"148"},{"t":16,"v":0.0284,"f":"148"},{"t":18.7,"v":0.0284,"f":"148"},{"t":19,"v":0.0505,"f":"148"},{"t":19.3,"v":0.0341,"f":"148"},{"t":19.6,"v":0.0341,"f":"148"},{"t":19.9,"v":0.0306,"f":"148"},{"t":20.3,"v":0.0295,"f":"148"},{"t":20.7,"v":0.0883,"f":"148"},{"t":20.9,"v":0.071,"f":"148"},{"t":21.1,"v":0.0425,"f":"148"},{"t":21.5,"v":0.0329,"f":"148"},{"t":22,"v":0.0295,"f":"148"},{"t":22.5,"v":0.0284,"f":"148"},{"t":23.5,"v":0.0284,"f":"148"},{"t":23.8,"v":0.0329,"f":"148"},{"t":24,"v":0.0317,"f":"148"},
      {"t":0,"v":0.0349,"f":"272"},{"t":1,"v":0.0349,"f":"272"},{"t":1.2,"v":0.0381,"f":"272"},{"t":1.5,"v":0.0349,"f":"272"},{"t":6.5,"v":0.0349,"f":"272"},{"t":7.3,"v":0.041,"f":"272"},{"t":7.7,"v":0.0349,"f":"272"},{"t":8.9,"v":0.0367,"f":"272"},{"t":9.05,"v":0.118,"f":"272"},{"t":9.2,"v":0.06,"f":"272"},{"t":9.5,"v":0.0367,"f":"272"},{"t":10,"v":0.0349,"f":"272"},{"t":11.5,"v":0.0349,"f":"272"},{"t":11.7,"v":0.041,"f":"272"},{"t":12,"v":0.0349,"f":"272"},{"t":12.2,"v":0.147,"f":"272"},{"t":12.4,"v":0.05,"f":"272"},{"t":12.6,"v":0.0395,"f":"272"},{"t":13,"v":0.066,"f":"272"},{"t":13.4,"v":0.0354,"f":"272"},{"t":13.9,"v":0.0549,"f":"272"},{"t":14.3,"v":0.0354,"f":"272"},{"t":14.6,"v":0.0381,"f":"272"},{"t":15,"v":0.0349,"f":"272"},{"t":18.7,"v":0.0349,"f":"272"},{"t":18.9,"v":0.0791,"f":"272"},{"t":19.1,"v":0.0395,"f":"272"},{"t":19.3,"v":0.0381,"f":"272"},{"t":19.6,"v":0.041,"f":"272"},{"t":20,"v":0.0354,"f":"272"},{"t":20.3,"v":0.1,"f":"272"},{"t":20.4,"v":0.447,"f":"272"},{"t":20.6,"v":0.2,"f":"272"},{"t":20.8,"v":0.0951,"f":"272"},{"t":21,"v":0.0457,"f":"272"},{"t":21.3,"v":0.0395,"f":"272"},{"t":21.8,"v":0.0349,"f":"272"},{"t":23.4,"v":0.0349,"f":"272"},{"t":23.6,"v":0.0883,"f":"272"},{"t":23.8,"v":0.0395,"f":"272"},{"t":24,"v":0.0349,"f":"272"},
      {"t":0,"v":0.0537,"f":"540"},{"t":1,"v":0.0522,"f":"540"},{"t":2.7,"v":0.053,"f":"540"},{"t":2.8,"v":0.056,"f":"540"},{"t":2.9,"v":0.0522,"f":"540"},{"t":6.8,"v":0.0522,"f":"540"},{"t":6.9,"v":0.0791,"f":"540"},{"t":7,"v":0.0522,"f":"540"},{"t":8.8,"v":0.0522,"f":"540"},{"t":8.9,"v":0.549,"f":"540"},{"t":9,"v":0.2,"f":"540"},{"t":9.1,"v":0.07,"f":"540"},{"t":9.2,"v":0.0522,"f":"540"},{"t":11.9,"v":0.0522,"f":"540"},{"t":12,"v":0.0736,"f":"540"},{"t":12.1,"v":0.0522,"f":"540"},{"t":12.3,"v":0.07,"f":"540"},{"t":12.4,"v":0.0522,"f":"540"},{"t":13,"v":0.065,"f":"540"},{"t":13.1,"v":0.0522,"f":"540"},{"t":18.7,"v":0.0522,"f":"540"},{"t":18.85,"v":0.18,"f":"540"},{"t":19,"v":0.0522,"f":"540"},{"t":19.5,"v":0.076,"f":"540"},{"t":19.6,"v":0.0522,"f":"540"},{"t":20,"v":0.053,"f":"540"},{"t":20.2,"v":0.354,"f":"540"},{"t":20.3,"v":0.06,"f":"540"},{"t":21,"v":0.0522,"f":"540"},{"t":21.1,"v":0.0791,"f":"540"},{"t":21.2,"v":0.0522,"f":"540"},{"t":21.7,"v":0.0684,"f":"540"},{"t":21.8,"v":0.0522,"f":"540"},{"t":22.2,"v":0.0684,"f":"540"},{"t":22.3,"v":0.0522,"f":"540"},{"t":23.3,"v":0.0613,"f":"540"},{"t":23.4,"v":0.0522,"f":"540"},{"t":24,"v":0.053,"f":"540"},
      {"t":0,"v":0.102,"f":"940"},{"t":0.5,"v":0.0964,"f":"940"},{"t":6.8,"v":0.0964,"f":"940"},{"t":6.9,"v":0.118,"f":"940"},{"t":7,"v":0.0964,"f":"940"},{"t":8.8,"v":0.0964,"f":"940"},{"t":8.95,"v":0.118,"f":"940"},{"t":9.1,"v":0.0964,"f":"940"},{"t":11.9,"v":0.0964,"f":"940"},{"t":12,"v":0.126,"f":"940"},{"t":12.1,"v":0.0964,"f":"940"},{"t":18.5,"v":0.0964,"f":"940"},{"t":18.6,"v":0.334,"f":"940"},{"t":18.7,"v":0.0964,"f":"940"},{"t":19.2,"v":0.0964,"f":"940"},{"t":19.3,"v":0.268,"f":"940"},{"t":19.4,"v":0.0964,"f":"940"},{"t":19.9,"v":0.0964,"f":"940"},{"t":20,"v":0.198,"f":"940"},{"t":20.1,"v":0.12,"f":"940"},{"t":20.2,"v":0.0964,"f":"940"},{"t":21,"v":0.0964,"f":"940"},{"t":21.1,"v":0.17,"f":"940"},{"t":21.2,"v":0.0964,"f":"940"},{"t":22.1,"v":0.0964,"f":"940"},{"t":22.2,"v":0.147,"f":"940"},{"t":22.3,"v":0.0964,"f":"940"},{"t":22.9,"v":0.0964,"f":"940"},{"t":23,"v":0.147,"f":"940"},{"t":23.1,"v":0.0964,"f":"940"},{"t":24,"v":0.0964,"f":"940"}
    ]
  },
  "vconcat": [
    {
      "width": 450,
      "height": 280,
      "title": {"text": "URAP Direction Finding \u00a02002-03-06", "fontSize": 18, "fontWeight": "normal", "font": "Liberation Sans", "color": "black", "anchor": "middle", "frame": "group", "offset": 8},
      "layer": [
        {
          "data": {"name": "df"},
          "mark": {"type": "point", "filled": true, "shape": "M-1,-0.5H1V0.5H-1Z", "size": 16, "opacity": 1},
          "encoding": {
            "x": {"field": "t", "type": "quantitative", "scale": {"domain": [0, 24], "nice": false},
                  "axis": {"orient": "bottom", "title": null, "labels": false, "labelFlush": false,
                           "values": [0,1,2,3,4,5,6,7,8,9,10,11,12,13,14,15,16,17,18,19,20,21,22,23,24],
                           "tickSize": {"condition": {"test": "datum.value % 6 === 0", "value": 6}, "value": 3}}},
            "y": {"field": "a", "type": "quantitative", "scale": {"domain": [-90, 90], "nice": false, "zero": false},
                  "axis": {"orient": "left", "title": "Azimuthal angle (deg)", "labelFlush": true,
                           "values": [-90,-80,-70,-60,-50,-40,-30,-20,-10,0,10,20,30,40,50,60,70,80,90],
                           "labelExpr": "datum.value % 30 === 0 ? datum.label : ''",
                           "tickSize": {"condition": {"test": "datum.value % 30 === 0", "value": 10}, "value": 5}}},
            "color": {"field": "f", "type": "nominal",
                      "scale": {"domain": ["52","100","120","148","272","540","940"],
                                "range": ["#ff0000","#ffa500","#c8c800","#00ff00","#00a0ff","#0000ff","#a020f0"]},
                      "legend": {"title": "Frequencies (kHz):", "orient": "none", "legendX": -2.5, "legendY": 576,
                                 "direction": "horizontal", "columns": 7, "gridAlign": "all", "titleOrient": "left",
                                 "titlePadding": 0, "titleFontSize": 14, "titleFontWeight": "normal", "titleColor": "black",
                                 "titleFont": "Liberation Sans", "labelFont": "Liberation Sans",
                                 "labelFontSize": 14, "labelOffset": 0, "symbolSize": 0, "symbolOpacity": 0,
                                 "symbolStrokeWidth": 0, "columnPadding": 12,
                                 "encode": {"labels": {"update": {"fill": {"scale": "color", "field": "value"}}}}}}
          }
        },
        {
          "data": {"name": "planet"},
          "encoding": {
            "x": {"field": "t", "type": "quantitative", "scale": {"domain": [0, 24], "nice": false},
                  "axis": {"orient": "top", "title": null, "labels": false,
                           "values": [0,1,2,3,4,5,6,7,8,9,10,11,12,13,14,15,16,17,18,19,20,21,22,23,24],
                           "tickSize": {"condition": {"test": "datum.value % 6 === 0", "value": 6}, "value": 3}}},
            "y": {"field": "a", "type": "quantitative", "scale": {"domain": [-90, 90], "nice": false, "zero": false},
                  "axis": {"orient": "right", "title": null, "labels": false,
                           "values": [-90,-80,-70,-60,-50,-40,-30,-20,-10,0,10,20,30,40,50,60,70,80,90],
                           "tickSize": {"condition": {"test": "datum.value % 30 === 0", "value": 10}, "value": 5}}}
          },
          "layer": [
            {"transform": [{"filter": "datum.body === 'Jupiter'"}],
             "mark": {"type": "line", "color": "black", "strokeWidth": 3.5, "interpolate": "step-after"}},
            {"transform": [{"filter": "datum.body === 'Saturn'"}],
             "mark": {"type": "line", "color": "#ff0000", "strokeWidth": 3.5}},
            {"transform": [{"filter": "datum.t === 24"}],
             "mark": {"type": "text", "align": "left", "baseline": "middle", "dx": 3, "fontSize": 14, "color": "black", "font": "Liberation Sans"},
             "encoding": {"text": {"field": "body"}}}
          ]
        }
      ],
      "resolve": {"scale": {"x": "independent", "y": "independent"}, "axis": {"x": "independent", "y": "independent"}}
    },
    {
      "width": 450,
      "height": 210,
      "data": {"name": "flux"},
      "layer": [
        {
          "transform": [{"filter": "datum.f !== '940'"}],
          "mark": {"type": "line", "strokeWidth": 2.5, "interpolate": "monotone"},
          "encoding": {
            "x": {"field": "t", "type": "quantitative", "scale": {"domain": [0, 24], "nice": false},
                  "axis": {"orient": "bottom", "title": "time - hours on 2002-03-06", "labelFlush": false, "labelPadding": 11,
                           "values": [0,1,2,3,4,5,6,7,8,9,10,11,12,13,14,15,16,17,18,19,20,21,22,23,24],
                           "labelExpr": "datum.value % 6 === 0 ? datum.label : ''", "titlePadding": 6,
                           "tickSize": {"condition": {"test": "datum.value % 6 === 0", "value": 6}, "value": 3}}},
            "y": {"field": "v", "type": "quantitative", "scale": {"type": "log", "domain": [0.01, 1], "nice": false},
                  "axis": {"orient": "left", "title": "intensity (microvolt/sqrt(Hz))", "labelFlush": true, "format": ".2f",
                           "values": [0.01, 0.0215, 0.0464, 0.1, 0.215, 0.464, 1],
                           "labelExpr": "(datum.value === 1 || datum.value === 0.1 || datum.value === 0.01) ? datum.label : ''",
                           "tickSize": {"condition": {"test": "datum.value === 1 || datum.value === 0.1 || datum.value === 0.01", "value": 10}, "value": 5}}},
            "color": {"field": "f", "type": "nominal"}
          }
        },
        {
          "transform": [{"filter": "datum.f === '940'"}],
          "mark": {"type": "line", "strokeWidth": 2.5},
          "encoding": {
            "x": {"field": "t", "type": "quantitative", "scale": {"domain": [0, 24], "nice": false},
                  "axis": {"orient": "top", "title": null, "labels": false,
                           "values": [0,1,2,3,4,5,6,7,8,9,10,11,12,13,14,15,16,17,18,19,20,21,22,23,24],
                           "tickSize": {"condition": {"test": "datum.value % 6 === 0", "value": 6}, "value": 3}}},
            "y": {"field": "v", "type": "quantitative", "scale": {"type": "log", "domain": [0.01, 1], "nice": false},
                  "axis": {"orient": "right", "title": null, "labels": false,
                           "values": [0.01, 0.0215, 0.0464, 0.1, 0.215, 0.464, 1],
                           "tickSize": {"condition": {"test": "datum.value === 1 || datum.value === 0.1 || datum.value === 0.01", "value": 10}, "value": 5}}},
            "color": {"field": "f", "type": "nominal"}
          }
        }
      ],
      "resolve": {"scale": {"x": "independent", "y": "independent"}, "axis": {"x": "independent", "y": "independent"}}
    }
  ]
}
